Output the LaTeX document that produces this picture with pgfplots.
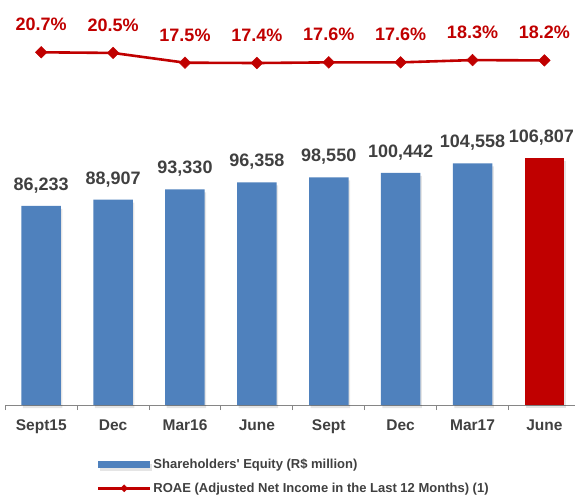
\documentclass[border=0pt]{standalone}
\usepackage{fontspec}
\setmainfont{Liberation Sans}
\newfontfamily\plainarial{Liberation Sans}
\usepackage{pgfplots}
\pgfplotsset{compat=1.18}
\definecolor{barblue}{HTML}{4F81BD}
\definecolor{roaered}{HTML}{C00000}
\definecolor{txtgray}{HTML}{404040}
\definecolor{axisgray}{HTML}{868686}
\begin{document}
\begin{tikzpicture}
\begin{axis}[
  at={(0pt,0pt)}, anchor=south west,
  scale only axis, width=569.7pt, height=405pt,
  xmin=-0.5, xmax=7.426, ymin=0, ymax=175324,
  ybar, bar width=39.5pt, bar shift=0pt,
  clip=false,
  axis x line*=bottom, axis y line=none, ytick=\empty,
  xtick={0,...,7},
  xticklabels={Sept15,Dec,Mar16,June,Sept,Dec,Mar17,June},
  major tick length=0pt,
  minor xtick={-0.5,0.5,1.5,2.5,3.5,4.5,5.5,6.5},
  minor tick length=5pt, tick align=outside,
  minor tick style={draw=axisgray, line width=1pt},
  x axis line style={draw=axisgray, line width=1pt},
  xticklabel style={font=\fontsize{15.5}{18}\selectfont\bfseries, text=txtgray, anchor=base, yshift=-25pt},
  nodes near coords style={font=\fontsize{18}{21}\selectfont\bfseries, text=txtgray, anchor=base, yshift=15.5pt},
  legend style={at={(0.1604,-0.1284)}, anchor=north west, draw=none, fill=none,
    font=\plainarial\fontsize{13}{15}\selectfont\bfseries, text=txtgray, row sep=8.5pt, inner sep=0pt},
  legend cell align=left,
]
\addplot[fill=barblue, draw=none, point meta=explicit symbolic,
  preaction={fill=black, opacity=0.10, transform canvas={xshift=1.5pt,yshift=-3pt}},
  nodes near coords,
  legend image code/.code={\fill[barblue] (0pt,-3.35pt) rectangle (52pt,3.35pt);}]
  table[meta=label] {
x y label
0 86233 86,233
1 88907 88,907
2 93330 93,330
3 96358 96,358
4 98550 98,550
5 100442 100,442
6 104558 104,558
};
\addlegendentry{Shareholders' Equity (R\$ million)}
\addplot[fill=roaered, draw=none, forget plot, point meta=explicit symbolic,
  preaction={fill=black, opacity=0.10, transform canvas={xshift=1.5pt,yshift=-3pt}},
  nodes near coords, nodes near coords style={xshift=-3pt}]
  table[meta=label] {
x y label
7 106807 106,807
};
\addlegendimage{legend image code/.code={
  \draw[roaered, line width=2.6pt] (0pt,0pt) -- (52pt,0pt);
  \fill[roaered, rotate around={45:(26pt,0pt)}] (23.5pt,-2.5pt) rectangle (28.5pt,2.5pt);}}
\addlegendentry{ROAE (Adjusted Net Income in the Last 12 Months) (1)}
\end{axis}
\begin{axis}[
  at={(0pt,0pt)}, anchor=south west,
  scale only axis, width=569.7pt, height=405pt,
  xmin=-0.5, xmax=7.426, ymin=-87.8, ymax=36.79,
  hide axis, clip=false,
]
\addplot[roaered, line width=2.6pt, mark=square*, mark size=4.1pt,
  mark options={rotate=45, solid, line width=0.5pt},
  point meta=explicit,
  nodes near coords={\pgfmathprintnumber[fixed, precision=1, fixed zerofill, assume math mode=true]{\pgfplotspointmeta}\%},
  nodes near coords style={font=\fontsize{18}{21}\selectfont\bfseries, text=roaered, anchor=base, yshift=21.6pt}]
  table[meta=y] {
x y
0 20.7
1 20.5
2 17.5
3 17.4
4 17.6
5 17.6
6 18.3
7 18.2
};
\end{axis}
\pgfresetboundingbox
\path[use as bounding box] (-5.3pt,-91pt) rectangle (569.7pt,405pt);
\end{tikzpicture}
\end{document}
